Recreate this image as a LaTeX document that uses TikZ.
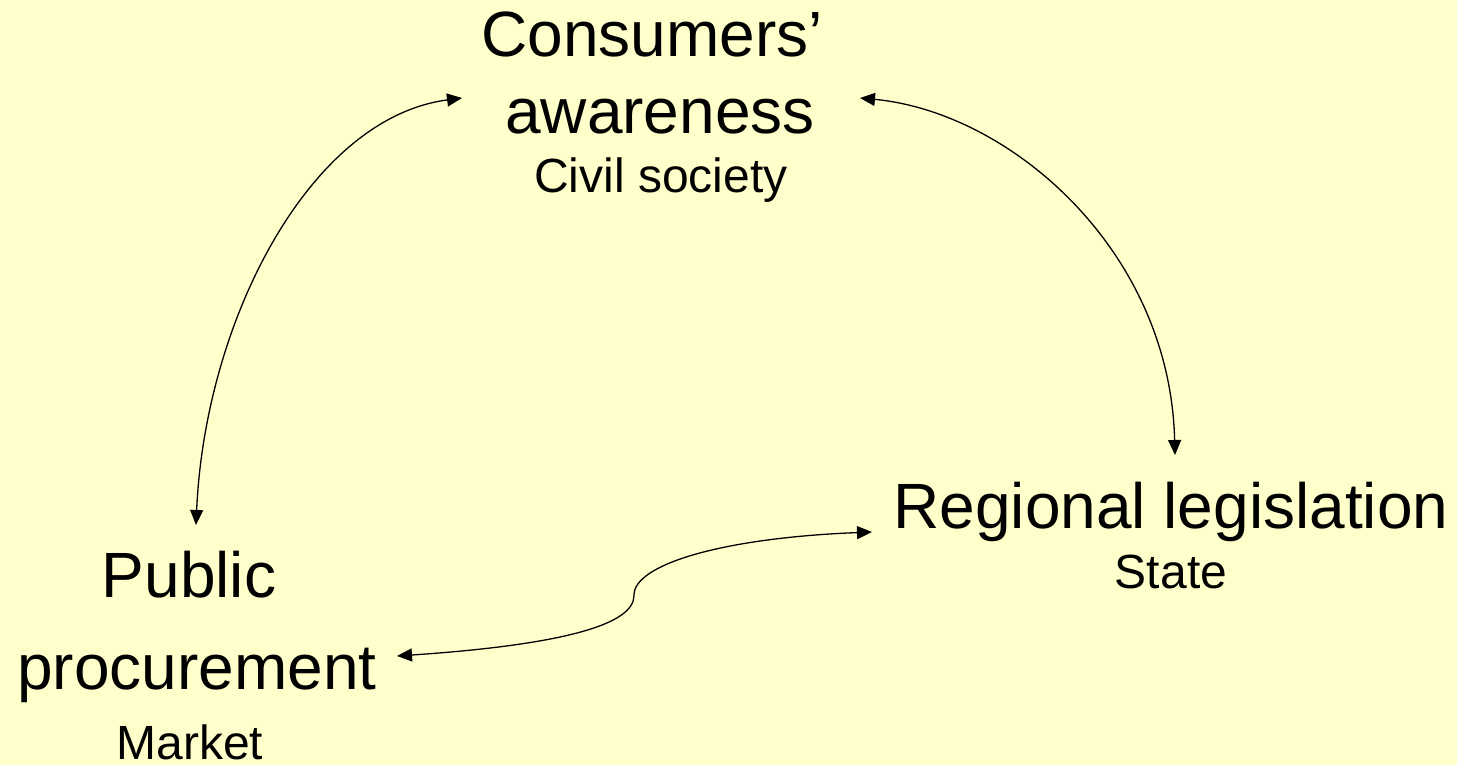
\documentclass[tikz,border=0pt]{standalone}
\usepackage{fontspec}
\setmainfont{Liberation Sans}
\usetikzlibrary{arrows.meta}
\definecolor{bgyellow}{HTML}{FFFFCC}
\tikzset{
  big/.style={anchor=base, inner sep=0pt, font=\fontsize{64}{64}\selectfont},
  small/.style={anchor=base, inner sep=0pt, font=\fontsize{48}{48}\selectfont},
  link/.style={line width=1.3pt, {Triangle[length=15pt,width=13pt]}-{Triangle[length=15pt,width=13pt]}}
}
\begin{document}
\begin{tikzpicture}[x=1pt,y=-1pt]
\fill[bgyellow] (0,0) rectangle (1457,765);
\useasboundingbox (0,0) rectangle (1457,765);
% texts
\node[big] (ca1) at (652,57) {Consumers’};
\node[big] (ca2) at (660,134) {awareness};
\node[small] (cs) at (661,193) {Civil society};
\node[big] (rl) at (1171,528) {Regional legislation};
\node[small] (st) at (1171,588) {State};
\node[big] (pp1) at (189,597) {Public};
\node[big] (pp2) at (197,689) {procurement};
\node[small] (mk) at (190,759) {Market};
% arrow ends
\coordinate (caL) at (462,98);
\coordinate (caR) at (860,98);
\coordinate (ppT) at (196,525);
\coordinate (ppR) at (397,656);
\coordinate (rlT) at (1175,455);
\coordinate (rlL) at (872,532);
% connectors
\draw[link] (ppT) .. controls (205,320) and (310,118) .. (caL);
\draw[link] (caR) .. controls (1010,112) and (1170,250) .. (rlT);
\draw[link] (ppR) .. controls (560,645) and (635,625) .. (634,595)
  .. controls (634,565) and (720,538) .. (rlL);
\end{tikzpicture}
\end{document}
